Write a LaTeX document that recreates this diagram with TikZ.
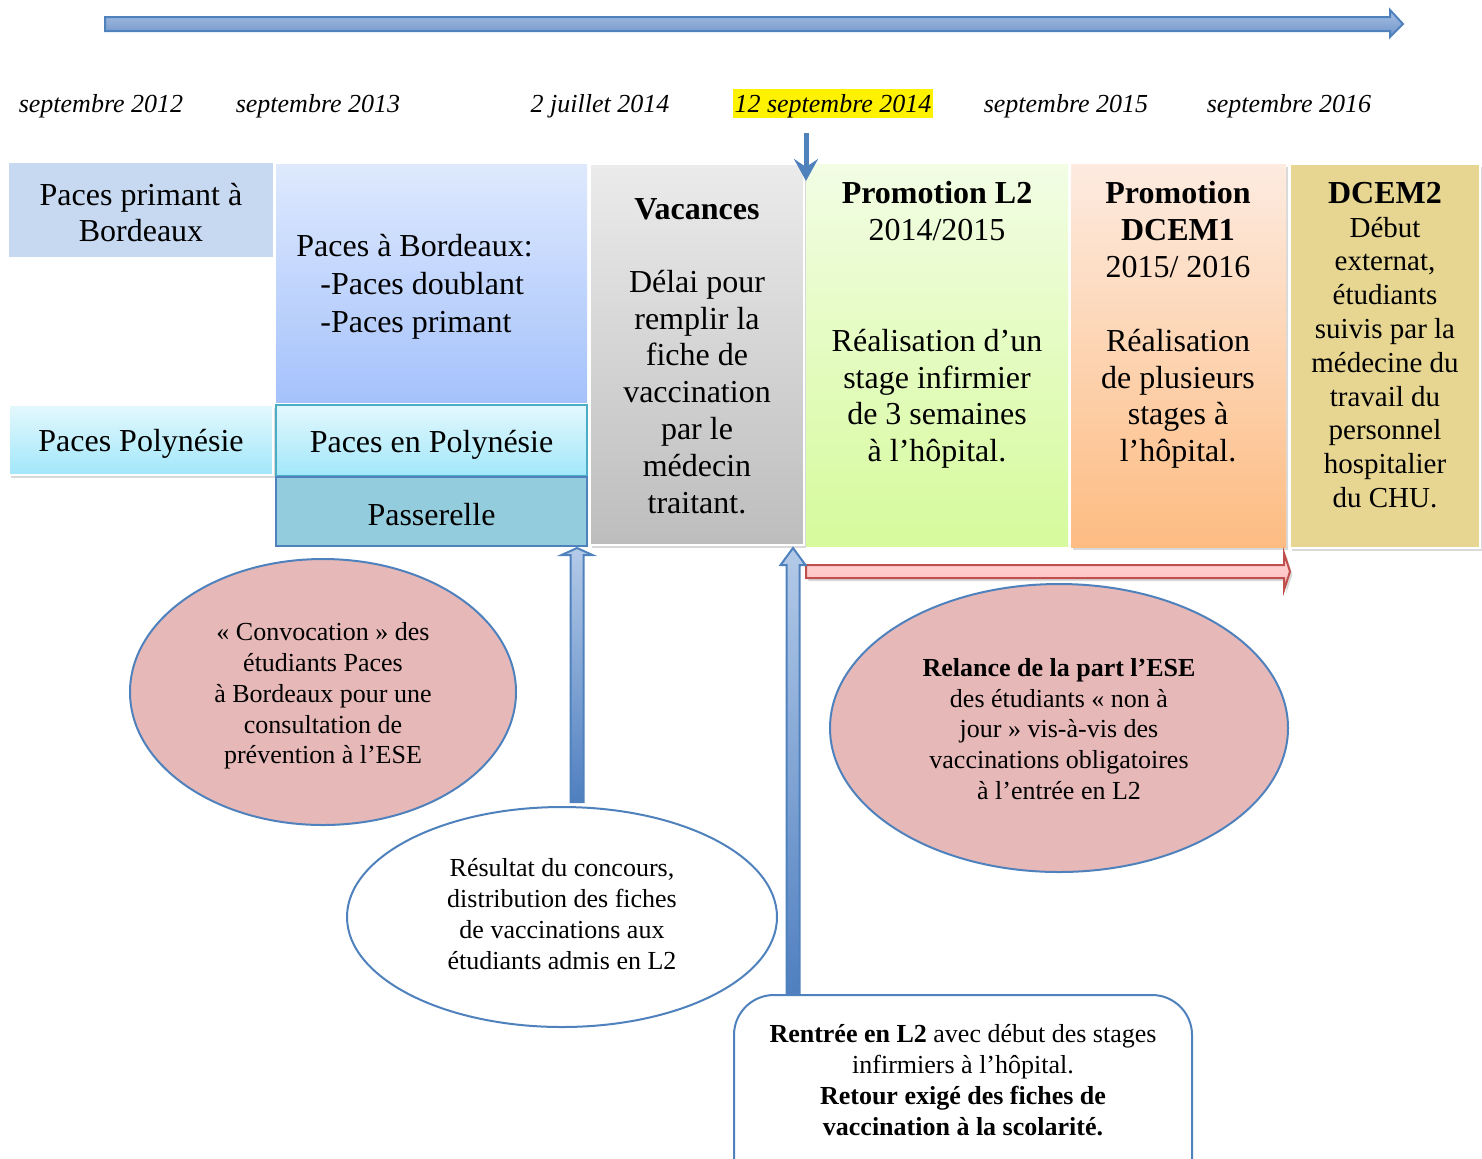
\documentclass[tikz,border=0pt]{standalone}
\usepackage{fontspec}
\setmainfont{Liberation Serif}
\usetikzlibrary{shadows,arrows.meta,shapes.geometric}
\definecolor{bordA}{HTML}{4F81BD}
\definecolor{arrTop}{HTML}{A9C2E4}
\definecolor{arrBot}{HTML}{6E92C8}
\definecolor{upTop}{HTML}{B4CAE8}
\definecolor{upBot}{HTML}{4F7FC0}
\definecolor{pbFill}{HTML}{C6D9F1}
\definecolor{bdxTop}{HTML}{DEE9FD}
\definecolor{bdxBot}{HTML}{A5C2FC}
\definecolor{polTop}{HTML}{E3F8FD}
\definecolor{polBot}{HTML}{A2E7FA}
\definecolor{polBord}{HTML}{4BACC6}
\definecolor{passFill}{HTML}{93CDDD}
\definecolor{vacTop}{HTML}{EBEBEB}
\definecolor{vacBot}{HTML}{BDBDBD}
\definecolor{lTop}{HTML}{F2FDE4}
\definecolor{lBot}{HTML}{D6FA9C}
\definecolor{dTop}{HTML}{FDEBE0}
\definecolor{dBot}{HTML}{FDBC82}
\definecolor{d2Fill}{HTML}{E6D692}
\definecolor{ellFill}{HTML}{E6B9B8}
\definecolor{redB}{HTML}{C0504D}
\definecolor{pinkTop}{HTML}{FFD8D8}
\definecolor{pinkBot}{HTML}{FFBDBD}
\begin{document}
\begin{tikzpicture}[x=0.5pt,y=-0.5pt,
  col/.style={rectangle, anchor=north west, inner sep=0pt, outer sep=0pt},
  shad/.style={drop shadow={shadow xshift=1.2pt, shadow yshift=-1.5pt, opacity=0.3}},
  big/.style={font=\fontsize{16}{18.4}\selectfont, align=center, inner sep=0pt},
  small/.style={font=\fontsize{13}{15.4}\selectfont, align=center, inner sep=0pt},
  datelbl/.style={font=\fontsize{13}{15}\selectfont\itshape, anchor=base, inner sep=0pt},
  bubble/.style={ellipse, draw=bordA, line width=1pt, inner sep=0pt},
  uparr/.style={draw=bordA, line width=1pt, top color=upTop, bottom color=upBot}
]
\useasboundingbox (0,0) rectangle (1482,1158);
\clip (0,0) rectangle (1482,1158);

% top timeline arrow
\coordinate (tlS) at (105,24);
\path[draw=bordA, line width=1pt, top color=arrTop, bottom color=arrBot]
  (tlS) ++(0,-7) -- ++(1285,0) -- ++(0,-7) -- ++(13,14) -- ++(-13,13) -- ++(0,-6) -- ++(-1285,0) -- cycle;

% dates
\node[datelbl] (d12) at (101,112) {septembre 2012};
\node[datelbl] (d13) at (318,112) {septembre 2013};
\node[datelbl] (dj14) at (600,112) {2 juillet 2014};
\node[datelbl, fill=yellow, inner xsep=1pt, text height=11.5pt, text depth=3pt] (ds14) at (833,112) {12 septembre 2014};
\node[datelbl] (d15) at (1066,112) {septembre 2015};
\node[datelbl] (d16) at (1289,112) {septembre 2016};

% columns
\node[col, fill=pbFill, minimum width=132pt, minimum height=47pt] (pb) at (9,163) {};
\node[big] (pbT) at ([yshift=-1.25pt]pb.center) {Paces primant à\\Bordeaux};

\node[col, top color=bdxTop, bottom color=bdxBot, minimum width=155.5pt, minimum height=119pt] (bdx) at (276,164) {};
\node[big, anchor=west, align=left, font=\fontsize{16}{19}\selectfont] (bdxT) at (296,287)
  {Paces à Bordeaux:\\\hspace*{12pt}-Paces doublant\\\hspace*{12pt}-Paces primant};

\node[col, shad, draw=white, line width=1pt, top color=polTop, bottom color=polBot, minimum width=132pt, minimum height=35pt] (ppol) at (9,405) {};
\node[big] (ppolT) at ([yshift=-2pt]ppol.center) {Paces Polynésie};

\node[col, draw=polBord, line width=1pt, top color=polTop, bottom color=polBot, minimum width=155.5pt, minimum height=35.5pt] (pepol) at (276,405) {};
\node[big] (pepolT) at ([yshift=-2pt]pepol.center) {Paces en Polynésie};

\node[col, draw=bordA, line width=1pt, fill=passFill, minimum width=155.5pt, minimum height=34.5pt] (pass) at (276,477) {};
\node[big] (passT) at ([yshift=-1.5pt]pass.center) {Passerelle};

\node[col, shad, draw=white, line width=1pt, top color=vacTop, bottom color=vacBot, minimum width=107pt, minimum height=190.5pt] (vac) at (590,164) {};
\node[big] (vacT) at (697,356) {\textbf{Vacances}\\[18pt]Délai pour\\remplir la\\fiche de\\vaccination\\par le\\médecin\\traitant.};

\node[col, top color=lTop, bottom color=lBot, minimum width=131pt, minimum height=191pt] (l2) at (806,164) {};
\node[big] (l2T) at (937,325) {\textbf{Promotion L2}\\2014/2015\\[37pt]Réalisation d’un\\stage infirmier\\de 3 semaines\\à l’hôpital.};

\node[col, shad, top color=dTop, bottom color=dBot, minimum width=107.5pt, minimum height=191.5pt] (dc1) at (1071,164) {};
\node[big] (dc1T) at (1178,325) {\textbf{Promotion}\\\textbf{DCEM1}\\2015/ 2016\\[18.5pt]Réalisation\\de plusieurs\\stages à\\l’hôpital.};

\node[col, shad, draw=white, line width=1pt, fill=d2Fill, minimum width=95pt, minimum height=192pt] (dc2) at (1290,164) {};
\node[align=center, inner sep=0pt, font=\fontsize{14.5}{16.9}\selectfont] (dc2T) at (1385,345)
  {{\fontsize{16}{18}\selectfont\textbf{DCEM2}}\\Début\\externat,\\étudiants\\suivis par la\\médecine du\\travail du\\personnel\\hospitalier\\du CHU.};

% small down arrow at 12 sept 2014
\coordinate (dTail) at (806,133);
\coordinate (dTip) at (806,181);
\draw[bordA, line width=2.5pt, -{Stealth[length=11pt,width=12pt,inset=4pt]}] (dTail) -- (dTip);

% red arrow
\coordinate (rTail) at (806,571.5);
\path[shad, draw=redB, line width=1pt, top color=pinkTop, bottom color=pinkBot]
  (rTail) ++(0,-6.5) -- ++(478,0) -- ++(0,-12) -- ++(6,18.5) -- ++(-6,18.5) -- ++(0,-12) -- ++(-478,0) -- cycle;

% ellipses
\node[bubble, fill=ellFill, minimum width=193pt, minimum height=133pt] (e1) at (323,692) {};
\node[small] (e1T) at (323,696)
  {« Convocation » des\\étudiants Paces\\à Bordeaux pour une\\consultation de\\prévention à l’ESE};
\node[bubble, fill=white, minimum width=215pt, minimum height=110pt] (e2) at (562,917) {};
\node[small] (e2T) at (562,914)
  {Résultat du concours,\\distribution des fiches\\de vaccinations aux\\étudiants admis en L2};
\node[bubble, fill=ellFill, minimum width=229pt, minimum height=144pt] (e3) at (1059,728) {};
\node[small] (e3T) at (1059,729)
  {\textbf{Relance de la part l’ESE}\\des étudiants « non à\\jour » vis-à-vis des\\vaccinations obligatoires\\à l’entrée en L2};

% up arrows
\coordinate (tipA) at (577,548);
\path[uparr] (tipA) -- ++(15.5,7) -- ++(-9,0) -- ++(0,247) -- ++(-13,0) -- ++(0,-247) -- ++(-9,0) -- cycle;
\coordinate (tipB) at (793,548);
\path[uparr] (tipB) -- ++(12.5,17) -- ++(-6,0) -- ++(0,430) -- ++(-13,0) -- ++(0,-430) -- ++(-6,0) -- cycle;

% bottom rounded box
\node[rectangle, anchor=north, draw=bordA, line width=1pt, fill=white, rounded corners=20pt,
  minimum width=229pt, minimum height=103pt] (ret) at (963,994) {};
\node[small] (retT) at (963,1080) {\textbf{Rentrée en L2} avec début des stages\\infirmiers à l’hôpital.\\\textbf{Retour exigé des fiches de}\\\textbf{vaccination à la scolarité.}};
\end{tikzpicture}
\end{document}
